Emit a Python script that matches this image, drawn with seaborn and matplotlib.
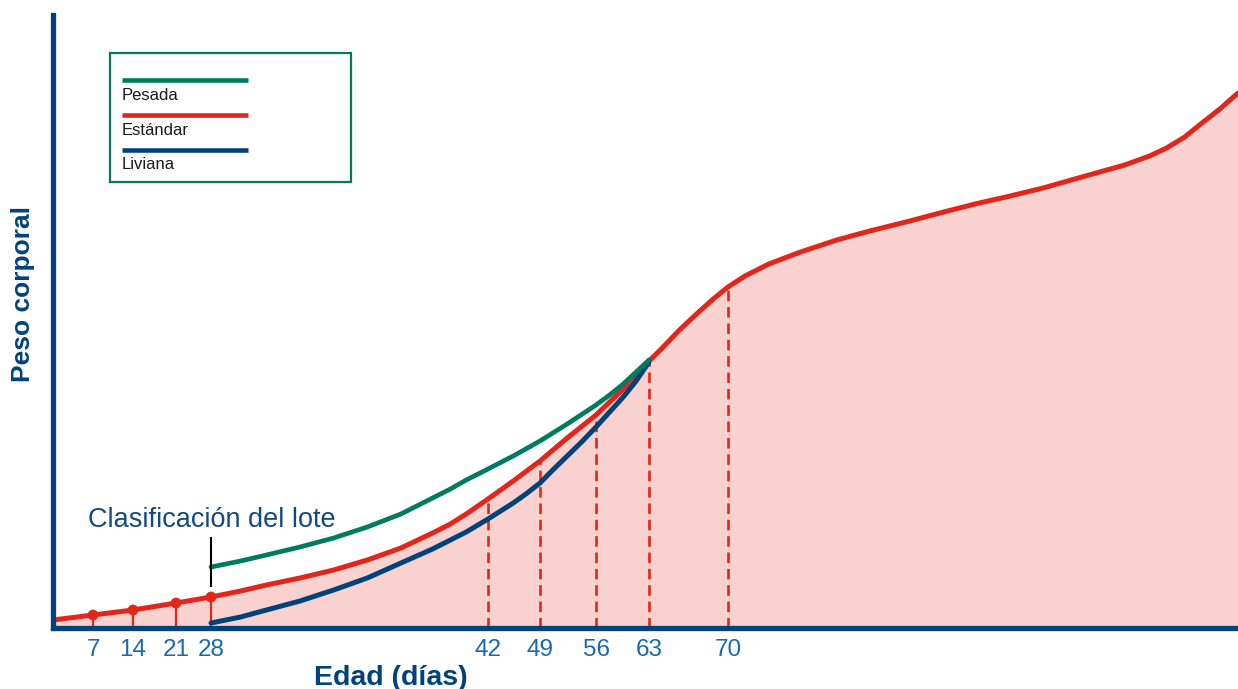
import numpy as np
import pandas as pd
import matplotlib
matplotlib.use("Agg")
import matplotlib.pyplot as plt
import seaborn as sns
from matplotlib.patches import Rectangle
from matplotlib.lines import Line2D

# ---------------- data ----------------
# Standard curve (Estándar): age in days, body weight (arbitrary units)
red_days = [0, 7, 14, 21, 28, 29.5, 30.8, 32.5, 34.2, 35.9, 37.6, 39.2, 40.1, 40.9,
            42, 45.4, 49, 52.4, 56, 57.8, 59.6, 61.3, 63, 64.0, 65.7, 67.5, 68.8,
            70, 71.5, 73.6, 76.4, 79.6, 82.5, 85.7, 88.7, 91.8, 94.9, 97.8, 100.6,
            102.8, 105.0, 107.2, 108.7, 110.3, 111.6, 113.4, 115]
red_w = [8, 13, 18, 25, 31, 37, 43, 50, 58, 68, 80, 95, 104, 114,
         129, 147, 167, 190, 213, 226, 239, 253, 267, 278, 298, 317, 330,
         341, 352, 364, 376, 388, 397, 406, 415, 424, 432, 440, 449,
         456, 463, 472, 480, 491, 503, 519, 535]

# Heavy flock (Pesada)
green_days = [28, 29.5, 30.8, 32.5, 34.2, 35.9, 37.6, 39.2, 40.1, 40.9, 42, 45.4,
              49, 52.4, 56, 57.8, 59.6, 61.3, 63]
green_w = [61, 67, 73, 81, 90, 101, 114, 130, 139, 148, 159, 172,
           187, 204, 223, 233, 244, 256, 268]

# Light flock (Liviana)
blue_days = [28, 29.5, 30.8, 32.5, 34.2, 35.9, 37.6, 39.2, 40.9, 42, 45.4, 47.1,
             49, 50.6, 52.4, 54.2, 56, 57.8, 59.6, 61.3, 63]
blue_w = [5, 11, 18, 27, 38, 50, 65, 79, 96, 109, 125, 134,
          145, 158, 172, 186, 201, 216, 231, 247, 266]

# Weekly markers (solid) and weighing days (dashed)
marker_days = [7, 14, 21, 28]
dashed_days = [42, 49, 56, 63, 70]
tick_days = [7, 14, 21, 28, 42, 49, 56, 63, 70]
tick_labels = ["7", "14", "21", "28", "42", "49", "56", "63", "70"]
class_day = 28

series_names = ["Pesada", "Estándar", "Liviana"]

# Non-uniform (schematic) age axis of the original: day -> position
knot_days = [0, 7, 14, 21, 28, 42, 49, 56, 63, 70, 115]
knot_pos = [0, 40, 80, 123, 158, 435, 487, 543, 596, 675, 1185]

# ---------------- styles ----------------
GREEN = "#007B5F"
RED = "#E2261B"
BLUE = "#00427A"
AXC = "#00437C"
FILL = "#F9D2D0"
TICKC = "#1A68B0"
TXTC = "#12497F"

sns.set_style("white")
plt.rcParams["font.family"] = ["Liberation Sans", "DejaVu Sans"]

W, H = 1238, 689
fig = plt.figure(figsize=(W / 100, H / 100), dpi=100)
ax = fig.add_axes([53 / W, 61 / H, 1185 / W, 613 / H])


def fwd(d):
    return np.interp(d, knot_days, knot_pos)


def inv(p):
    return np.interp(p, knot_pos, knot_days)


ax.set_xscale("function", functions=(fwd, inv))
ax.set_xlim(0, 115)
ax.set_ylim(0, 613)

red = pd.DataFrame({"day": red_days, "w": red_w})
green = pd.DataFrame({"day": green_days, "w": green_w})
blue = pd.DataFrame({"day": blue_days, "w": blue_w})
red_lookup = red.set_index("day")["w"]

# area under the standard curve
ax.fill_between(red["day"], red["w"], 0, color=FILL, lw=0, zorder=1)

# vertical guides
ax.vlines(marker_days, 0, red_lookup.loc[marker_days].values, color=RED, lw=1.6, zorder=3)
ax.vlines(dashed_days, 0, red_lookup.loc[dashed_days].values, color=RED, lw=1.9,
          linestyles=(0, (4, 2.2)), zorder=3)

# curves
sns.lineplot(data=red, x="day", y="w", ax=ax, color=RED, lw=3.6, estimator=None,
             sort=False, solid_capstyle="round", solid_joinstyle="round", zorder=4)
sns.lineplot(data=blue, x="day", y="w", ax=ax, color=BLUE, lw=3.6, estimator=None,
             sort=False, solid_capstyle="round", solid_joinstyle="round", zorder=5)
sns.lineplot(data=green, x="day", y="w", ax=ax, color=GREEN, lw=3.4, estimator=None,
             sort=False, solid_capstyle="round", solid_joinstyle="round", zorder=6)

sns.scatterplot(x=marker_days, y=red_lookup.loc[marker_days].values, ax=ax, color=RED,
                s=60, edgecolor="none", zorder=7)

# classification tick
ax.vlines(class_day, 41, 91, color="black", lw=1.5, zorder=6)

# axes styling
for s in ["top", "right"]:
    ax.spines[s].set_visible(False)
for s in ["left", "bottom"]:
    ax.spines[s].set_color(AXC)
    ax.spines[s].set_linewidth(3.8)
    ax.spines[s].set_zorder(8)
ax.set_yticks([])
ax.set_xticks(tick_days)
ax.set_xticklabels(tick_labels)
ax.minorticks_off()
ax.tick_params(axis="x", which="both", length=0, pad=8, labelsize=17.5, labelcolor=TICKC)
ax.set_xlabel("")
ax.set_ylabel("")


def fx(x):
    return x / W


def fy(y):
    return 1 - y / H


fig.text(fx(391), fy(685), "Edad (días)", ha="center", va="baseline", fontsize=20.5,
         fontweight="bold", color=AXC)
fig.text(fx(23), fy(294), "Peso corporal", ha="center", va="center", rotation=90,
         fontsize=19, fontweight="bold", color=AXC)
fig.text(fx(88), fy(527), "Clasificación del lote", ha="left", va="baseline",
         fontsize=19.5, color=TXTC)

# manual legend (line above each label)
fig.add_artist(Rectangle((fx(110), fy(182)), 241 / W, 129 / H, transform=fig.transFigure,
                         fill=False, ec=GREEN, lw=1.6))
leg_colors = [GREEN, RED, BLUE]
leg_line_y = [80, 115, 150]
leg_text_y = [100, 135, 169]
for name, c, ly, ty in zip(series_names, leg_colors, leg_line_y, leg_text_y):
    fig.add_artist(Line2D([fx(122), fx(248)], [fy(ly), fy(ly)], transform=fig.transFigure,
                          color=c, lw=3.3, solid_capstyle="butt"))
    fig.text(fx(122), fy(ty), name, ha="left", va="baseline", fontsize=12,
             color="#1a1a1a")

fig.savefig("out.png", dpi=100)
